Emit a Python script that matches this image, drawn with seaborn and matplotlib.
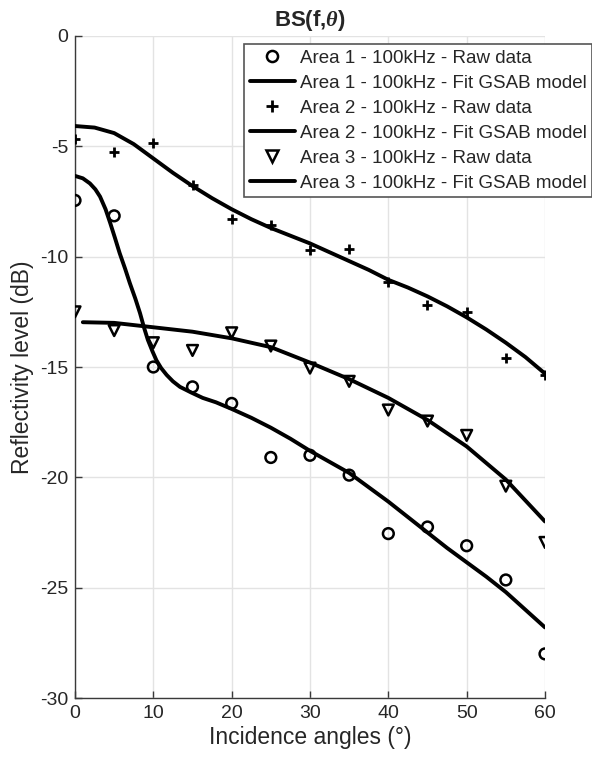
import numpy as np
import pandas as pd
import seaborn as sns
import matplotlib.pyplot as plt
from matplotlib.lines import Line2D

# raw data
angles = [0, 5, 10, 15, 20, 25, 30, 35, 40, 45, 50, 55, 60]
area1_raw = [-7.45, -8.15, -15.0, -15.9, -16.65, -19.1, -19.0, -19.9, -22.55, -22.25, -23.1, -24.65, -28.0]
area2_raw = [-4.65, -5.25, -4.85, -6.75, -8.3, -8.55, -9.7, -9.65, -11.15, -12.2, -12.5, -14.6, -15.35]
area3_raw = [-12.5, -13.35, -13.9, -14.25, -13.45, -14.05, -15.05, -15.65, -16.95, -17.45, -18.1, -20.4, -22.95]

# fitted GSAB curves
fit1_angles = [0, 1, 1.9, 2.6, 3.2, 3.9, 4.5, 5.1, 5.7, 6.4, 7.0, 7.7, 8.3, 8.8, 9.3, 9.9, 10.4, 11.0, 11.7,
               12.5, 13.4, 14.8, 16.3, 18, 20, 22.5, 25, 27.5, 30, 32.5, 35,
               37.5, 40, 42.5, 45, 47.5, 50, 52.5, 55, 57.5, 60]
fit1_vals = [-6.34, -6.45, -6.68, -6.95, -7.28, -7.85, -8.48, -9.15, -9.84, -10.55, -11.2, -11.9, -12.56,
             -13.2, -13.77, -14.3, -14.7, -15.05, -15.36, -15.65, -15.9, -16.15, -16.4, -16.6, -16.9,
             -17.3, -17.75, -18.25, -18.8, -19.3, -19.8, -20.45, -21.1, -21.8, -22.5, -23.2,
             -23.85, -24.5, -25.2, -26.0, -26.8]
fit2_angles = [0, 2.5, 5, 7.5, 10, 12.5, 15, 17.5, 20, 22.5, 25, 27.5, 30, 32.5, 35, 37.5, 40, 42.5, 45,
               47.5, 50, 52.5, 55, 57.5, 60]
fit2_vals = [-4.08, -4.15, -4.4, -4.9, -5.55, -6.2, -6.8, -7.35, -7.85, -8.3, -8.7, -9.05, -9.4, -9.8, -10.2,
             -10.6, -11.05, -11.4, -11.8, -12.25, -12.75, -13.3, -13.9, -14.55, -15.3]
fit3_angles = [1, 5, 10, 15, 20, 25, 30, 35, 40, 45, 50, 55, 60]
fit3_vals = [-12.97, -13.0, -13.2, -13.4, -13.7, -14.1, -14.8, -15.55, -16.4, -17.4, -18.6, -20.1, -22.0]

labels_raw = ["Area 1 - 100kHz - Raw data", "Area 2 - 100kHz - Raw data", "Area 3 - 100kHz - Raw data"]
labels_fit = ["Area 1 - 100kHz - Fit GSAB model", "Area 2 - 100kHz - Fit GSAB model",
              "Area 3 - 100kHz - Fit GSAB model"]

sns.set_style("whitegrid")
plt.rcParams['font.family'] = ['Liberation Sans', 'DejaVu Sans']
plt.rcParams['axes.unicode_minus'] = False
plt.rcParams['mathtext.fontset'] = 'custom'
plt.rcParams['mathtext.it'] = 'Liberation Serif:italic:bold'

fig = plt.figure(figsize=(5.92, 7.69), dpi=100)
ax = fig.add_axes([0.1267, 0.0923, 0.7939, 0.8609])

raw_df = pd.DataFrame({"angle": angles * 3,
                       "bs": area1_raw + area2_raw + area3_raw,
                       "area": ["1"] * 13 + ["2"] * 13 + ["3"] * 13})
markers = {"1": "o", "2": "+", "3": "v"}
for key, mk in markers.items():
    sub = raw_df[raw_df["area"] == key]
    if mk == "+":
        sns.scatterplot(x="angle", y="bs", data=sub, marker="+", s=60, color="black",
                        linewidth=2, ax=ax, zorder=4)
    else:
        sns.scatterplot(x="angle", y="bs", data=sub, marker=mk, s=60, facecolor="none",
                        edgecolor="black", linewidth=1.8, ax=ax, zorder=4)

for xs, ys in [(fit1_angles, fit1_vals), (fit2_angles, fit2_vals), (fit3_angles, fit3_vals)]:
    fdf = pd.DataFrame({"angle": xs, "bs": ys})
    sns.lineplot(x="angle", y="bs", data=fdf, color="black", linewidth=2.8, sort=False,
                 estimator=None, ax=ax, zorder=3)

ax.set_xlim(0, 60)
ax.set_ylim(-30, 0)
ax.set_xticks(range(0, 61, 10))
ax.set_yticks(range(-30, 1, 5))
ax.grid(True, color="#e3e3e3", linewidth=1.0)
for side in ["top", "right"]:
    ax.spines[side].set_visible(False)
for side in ["left", "bottom"]:
    ax.spines[side].set_color("#3a3a3a")
    ax.spines[side].set_linewidth(1.0)
ax.tick_params(direction="in", length=5, width=1, color="#3a3a3a", labelsize=14,
               labelcolor="#262626", left=True, bottom=True, pad=5)

ax.set_xlabel("Incidence angles (°)", fontsize=16.5, color="#262626", labelpad=3)
ax.set_ylabel("Reflectivity level (dB)", fontsize=16.5, color="#262626", labelpad=4)
ax.set_title(r"BS(f,$\theta$)", fontsize=16, fontweight="bold", pad=7)

handles = []
for mk, lr, lf in zip(["o", "+", "v"], labels_raw, labels_fit):
    if mk == "+":
        handles.append(Line2D([], [], linestyle="none", marker="+", markersize=8,
                              markeredgewidth=2, color="black", label=lr))
    else:
        handles.append(Line2D([], [], linestyle="none", marker=mk, markersize=8, markerfacecolor="none",
                              markeredgewidth=1.8, color="black", label=lr))
    handles.append(Line2D([], [], color="black", linewidth=2.8, label=lf))

leg = fig.legend(handles=handles, loc="upper right", bbox_to_anchor=(1.0, 0.9428),
                 fontsize=13.5, frameon=True, fancybox=False, framealpha=1,
                 edgecolor="#555555", handlelength=2.4, handletextpad=0.25,
                 borderpad=0.3, labelspacing=0.42, borderaxespad=0)
leg.get_frame().set_linewidth(1.2)

plt.savefig("out.png", dpi=100)
